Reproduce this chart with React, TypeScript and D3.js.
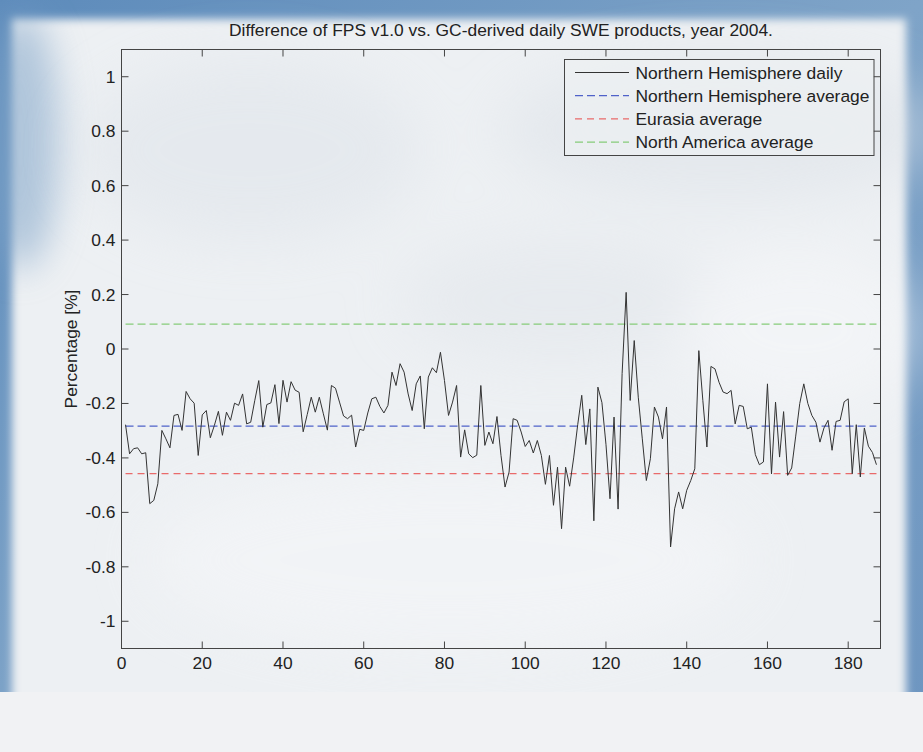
import React from 'react'
import * as d3 from 'd3'

// daily difference, northern hemisphere, days 1..187
const nhDaily = [
  -0.278, -0.385, -0.366, -0.363, -0.385, -0.381, -0.568, -0.556, -0.495, -0.299,
  -0.33, -0.363, -0.244, -0.24, -0.299, -0.156, -0.183, -0.199, -0.391, -0.242,
  -0.226, -0.326, -0.281, -0.229, -0.317, -0.232, -0.262, -0.199, -0.207, -0.165,
  -0.275, -0.269, -0.19, -0.116, -0.287, -0.204, -0.198, -0.131, -0.274, -0.115,
  -0.195, -0.12, -0.151, -0.159, -0.304, -0.241, -0.177, -0.232, -0.177, -0.238,
  -0.298, -0.134, -0.144, -0.195, -0.246, -0.256, -0.243, -0.36, -0.295, -0.299,
  -0.235, -0.183, -0.177, -0.211, -0.235, -0.207, -0.085, -0.134, -0.054, -0.085,
  -0.165, -0.226, -0.128, -0.099, -0.293, -0.103, -0.069, -0.087, -0.012, -0.116,
  -0.244, -0.195, -0.134, -0.397, -0.297, -0.385, -0.399, -0.39, -0.134, -0.354,
  -0.305, -0.348, -0.248, -0.391, -0.507, -0.452, -0.256, -0.262, -0.305, -0.358,
  -0.336, -0.382, -0.336, -0.391, -0.497, -0.391, -0.574, -0.434, -0.66, -0.434,
  -0.504, -0.4, -0.278, -0.17, -0.351, -0.22, -0.631, -0.14, -0.197, -0.35,
  -0.55, -0.25, -0.588, -0.09, 0.208, -0.189, 0.031, -0.177, -0.33, -0.483,
  -0.403, -0.213, -0.25, -0.33, -0.213, -0.727, -0.587, -0.525, -0.587, -0.519,
  -0.483, -0.44, -0.006, -0.19, -0.36, -0.064, -0.073, -0.122, -0.158, -0.164,
  -0.152, -0.275, -0.207, -0.211, -0.293, -0.287, -0.388, -0.425, -0.415, -0.128,
  -0.459, -0.195, -0.397, -0.23, -0.464, -0.437, -0.32, -0.2, -0.128, -0.2,
  -0.244, -0.269, -0.342, -0.29, -0.262, -0.372, -0.266, -0.262, -0.194, -0.183,
  -0.458, -0.278, -0.47, -0.29, -0.357, -0.38, -0.425
]

const averages = [
  { label: 'Northern Hemisphere average', value: -0.283, color: '#4f62c9', dash: '8,4' },
  { label: 'Eurasia average', value: -0.458, color: '#e96a6a', dash: '7,5' },
  { label: 'North America average', value: 0.091, color: '#86cc7a', dash: '8,4' }
]

const xTicks = [0, 20, 40, 60, 80, 100, 120, 140, 160, 180]
const yTicks = [-1, -0.8, -0.6, -0.4, -0.2, 0, 0.2, 0.4, 0.6, 0.8, 1]

const W = 923
const H = 752
const box = { left: 121.5, right: 880.5, top: 49.5, bottom: 648.5 }
const font = '"Liberation Sans", Arial, Helvetica, sans-serif'
const axisColor = '#444'
const fs = 17.4

export default function App() {
  const x = d3.scaleLinear().domain([0, 188]).range([box.left, box.right])
  const y = d3.scaleLinear().domain([-1.1, 1.1]).range([box.bottom, box.top])

  const line = d3
    .line<number>()
    .x((_, i) => x(i + 1))
    .y((d) => y(d))

  const first = 1
  const last = nhDaily.length

  const legendItems = [
    { label: 'Northern Hemisphere daily', color: '#333', dash: undefined as string | undefined },
    ...averages.map((a) => ({ label: a.label, color: a.color, dash: a.dash }))
  ]

  return (
    <svg
      width={W}
      height={H}
      style={{ position: 'absolute', left: 0, top: 0, display: 'block' }}
      fontFamily={font}
    >
      <defs>
        <linearGradient id="sky" x1="0" y1="0" x2="1" y2="1">
          <stop offset="0" stopColor="#5d8bbb" />
          <stop offset="0.5" stopColor="#7fa4c8" />
          <stop offset="1" stopColor="#6d95c0" />
        </linearGradient>
        <filter id="soft" x="-10%" y="-10%" width="120%" height="120%">
          <feGaussianBlur stdDeviation="4" />
        </filter>
        <filter id="cloud" x="-30%" y="-30%" width="160%" height="160%">
          <feGaussianBlur stdDeviation="28" />
        </filter>
        <filter id="haze" x="-50%" y="-50%" width="200%" height="200%">
          <feGaussianBlur stdDeviation="18" />
        </filter>
      </defs>

      <rect x={0} y={0} width={W} height={H} fill="url(#sky)" />
      <rect x={12} y={19} width={894} height={760} fill="#edf0f3" filter="url(#soft)" />
      {/* a little sky showing through at the upper left */}
      <ellipse cx={20} cy={140} rx={40} ry={130} fill="#7ea3c7" opacity={0.55} filter="url(#haze)" />
      <g filter="url(#cloud)" opacity={0.55}>
        <ellipse cx={250} cy={150} rx={170} ry={90} fill="#dfe4ea" />
        <ellipse cx={720} cy={130} rx={220} ry={70} fill="#dde2e8" />
        <ellipse cx={560} cy={300} rx={160} ry={60} fill="#e2e6eb" />
        <ellipse cx={800} cy={330} rx={120} ry={80} fill="#f7f8fa" />
        <ellipse cx={450} cy={560} rx={300} ry={90} fill="#f6f7f9" />
      </g>
      <rect x={0} y={692} width={W} height={60} fill="#f1f2f4" />

      {/* title */}
      <text x={(box.left + box.right) / 2} y={36} textAnchor="middle" fontSize={fs} fill="#222">
        Difference of FPS v1.0 vs. GC-derived daily SWE products, year 2004.
      </text>

      {/* average lines */}
      {averages.map((a) => (
        <line
          key={a.label}
          x1={x(first)}
          x2={x(last)}
          y1={y(a.value)}
          y2={y(a.value)}
          stroke={a.color}
          strokeWidth={1.2}
          strokeDasharray={a.dash}
        />
      ))}

      {/* daily series */}
      <path d={line(nhDaily) ?? ''} fill="none" stroke="#333" strokeWidth={1} strokeLinejoin="round" />

      {/* axes box */}
      <rect
        x={box.left}
        y={box.top}
        width={box.right - box.left}
        height={box.bottom - box.top}
        fill="none"
        stroke={axisColor}
        strokeWidth={1}
      />
      {xTicks.map((t) => (
        <g key={`x${t}`}>
          <line x1={x(t)} x2={x(t)} y1={box.bottom} y2={box.bottom - 7} stroke={axisColor} />
          <line x1={x(t)} x2={x(t)} y1={box.top} y2={box.top + 7} stroke={axisColor} />
          <text x={x(t)} y={box.bottom + 20} textAnchor="middle" fontSize={fs} fill="#222">
            {String(t)}
          </text>
        </g>
      ))}
      {yTicks.map((t) => (
        <g key={`y${t}`}>
          <line x1={box.left} x2={box.left + 7} y1={y(t)} y2={y(t)} stroke={axisColor} />
          <line x1={box.right} x2={box.right - 7} y1={y(t)} y2={y(t)} stroke={axisColor} />
          <text x={box.left - 6} y={y(t) + 6} textAnchor="end" fontSize={fs} fill="#222">
            {String(t)}
          </text>
        </g>
      ))}
      <text
        transform={`translate(77,${(box.top + box.bottom) / 2}) rotate(-90)`}
        textAnchor="middle"
        fontSize={fs}
        fill="#222"
      >
        Percentage [%]
      </text>

      {/* legend */}
      <g>
        <rect x={564.5} y={59.5} width={309.5} height={96} fill="#eef1f4" fillOpacity={0.6} stroke={axisColor} />
        {legendItems.map((item, i) => {
          const cy = 72.5 + i * 23.2
          return (
            <g key={item.label}>
              <line
                x1={575}
                x2={629}
                y1={cy}
                y2={cy}
                stroke={item.color}
                strokeWidth={item.dash ? 1.2 : 1}
                strokeDasharray={item.dash}
              />
              <text x={635.5} y={cy + 6} fontSize={fs} fill="#222">
                {item.label}
              </text>
            </g>
          )
        })}
      </g>
    </svg>
  )
}
